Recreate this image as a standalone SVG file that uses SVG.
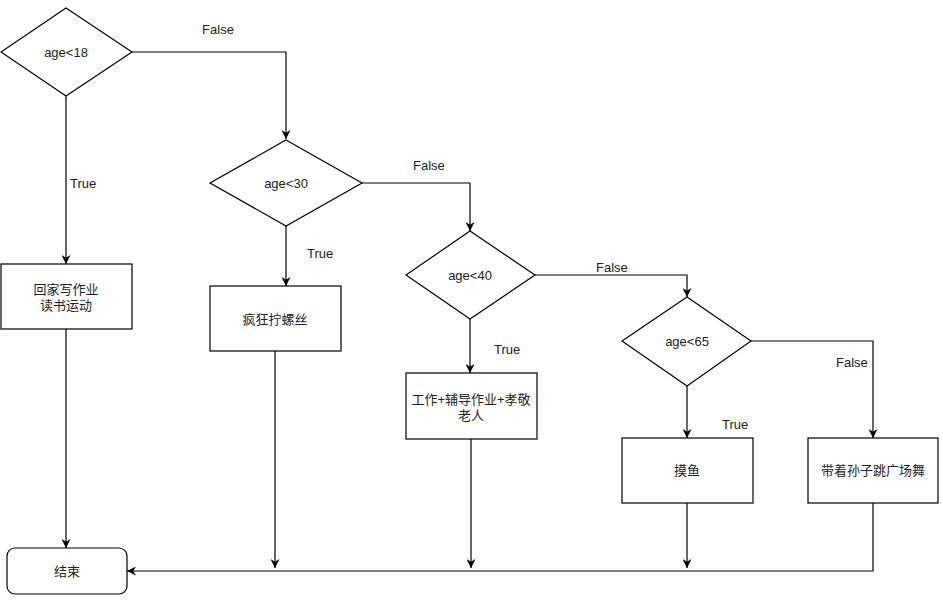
<svg xmlns="http://www.w3.org/2000/svg" width="943" height="600" viewBox="0 0 943 600">
<defs>
<marker id="arr" viewBox="0 0 10 10" refX="10" refY="5" markerWidth="9" markerHeight="9" markerUnits="userSpaceOnUse" orient="auto">
<path d="M0,0 L10,5 L0,10 L3,5 Z" fill="#000"/>
</marker>
<style>
.shape{fill:#fff;stroke:#000;stroke-width:1.2}
.edge{fill:none;stroke:#000;stroke-width:1.2}
.arrow{marker-end:url(#arr)}
text{font-family:"Liberation Sans","Noto Sans CJK SC",sans-serif;font-size:13px;fill:#222;dominant-baseline:central}
.c{text-anchor:middle}
</style>
</defs>
<rect width="943" height="600" fill="#fff"/>
<g id="connectors">
<path class="edge arrow" d="M132,52 H286 V139"/>
<path class="edge arrow" d="M66,96 V264"/>
<path class="edge arrow" d="M66,329 V548"/>
<path class="edge arrow" d="M286,226 V286"/>
<path class="edge arrow" d="M362,183 H470 V231"/>
<path class="edge arrow" d="M275,351 V568"/>
<path class="edge arrow" d="M470,319 V373"/>
<path class="edge arrow" d="M535,275 H687 V297"/>
<path class="edge arrow" d="M471,439 V568"/>
<path class="edge arrow" d="M687,386 V438"/>
<path class="edge arrow" d="M751,341 H873 V438"/>
<path class="edge arrow" d="M687,503 V568"/>
<path class="edge arrow" d="M873,503 V571 H127"/>
<text x="218" y="29" class="c">False</text>
<text x="70" y="183">True</text>
<text x="307" y="253">True</text>
<text x="413" y="165">False</text>
<text x="494" y="349">True</text>
<text x="596" y="267">False</text>
<text x="722" y="424">True</text>
<text x="836" y="362">False</text>
</g>
<g id="d18">
<polygon class="shape" points="66,8 132,52 66,96 1,52"/>
<text x="66" y="52" class="c">age&lt;18</text>
</g>
<g id="d30">
<polygon class="shape" points="286,140 362,183 286,226 210,183"/>
<text x="286" y="183" class="c">age&lt;30</text>
</g>
<g id="d40">
<polygon class="shape" points="470,231 535,275 470,319 406,275"/>
<text x="470" y="275" class="c">age&lt;40</text>
</g>
<g id="d65">
<polygon class="shape" points="687,297 751,341 687,386 622,341"/>
<text x="687" y="341" class="c">age&lt;65</text>
</g>
<g id="b1">
<rect class="shape" x="1" y="264" width="131" height="65"/>
<text x="66" y="289" class="c">回家写作业</text>
<text x="66" y="305" class="c">读书运动</text>
</g>
<g id="b2">
<rect class="shape" x="210" y="286" width="131" height="65"/>
<text x="275" y="319" class="c">疯狂拧螺丝</text>
</g>
<g id="b3">
<rect class="shape" x="406" y="373" width="131" height="66"/>
<text x="471" y="399" class="c">工作+辅导作业+孝敬</text>
<text x="471" y="415" class="c">老人</text>
</g>
<g id="b4">
<rect class="shape" x="622" y="438" width="131" height="65"/>
<text x="687" y="470" class="c">摸鱼</text>
</g>
<g id="b5">
<rect class="shape" x="808" y="438" width="130" height="65"/>
<text x="873" y="470" class="c">带着孙子跳广场舞</text>
</g>
<g id="end">
<rect class="shape" x="7" y="548" width="120" height="46" rx="8" ry="8"/>
<text x="67" y="571" class="c">结束</text>
</g>
</svg>
